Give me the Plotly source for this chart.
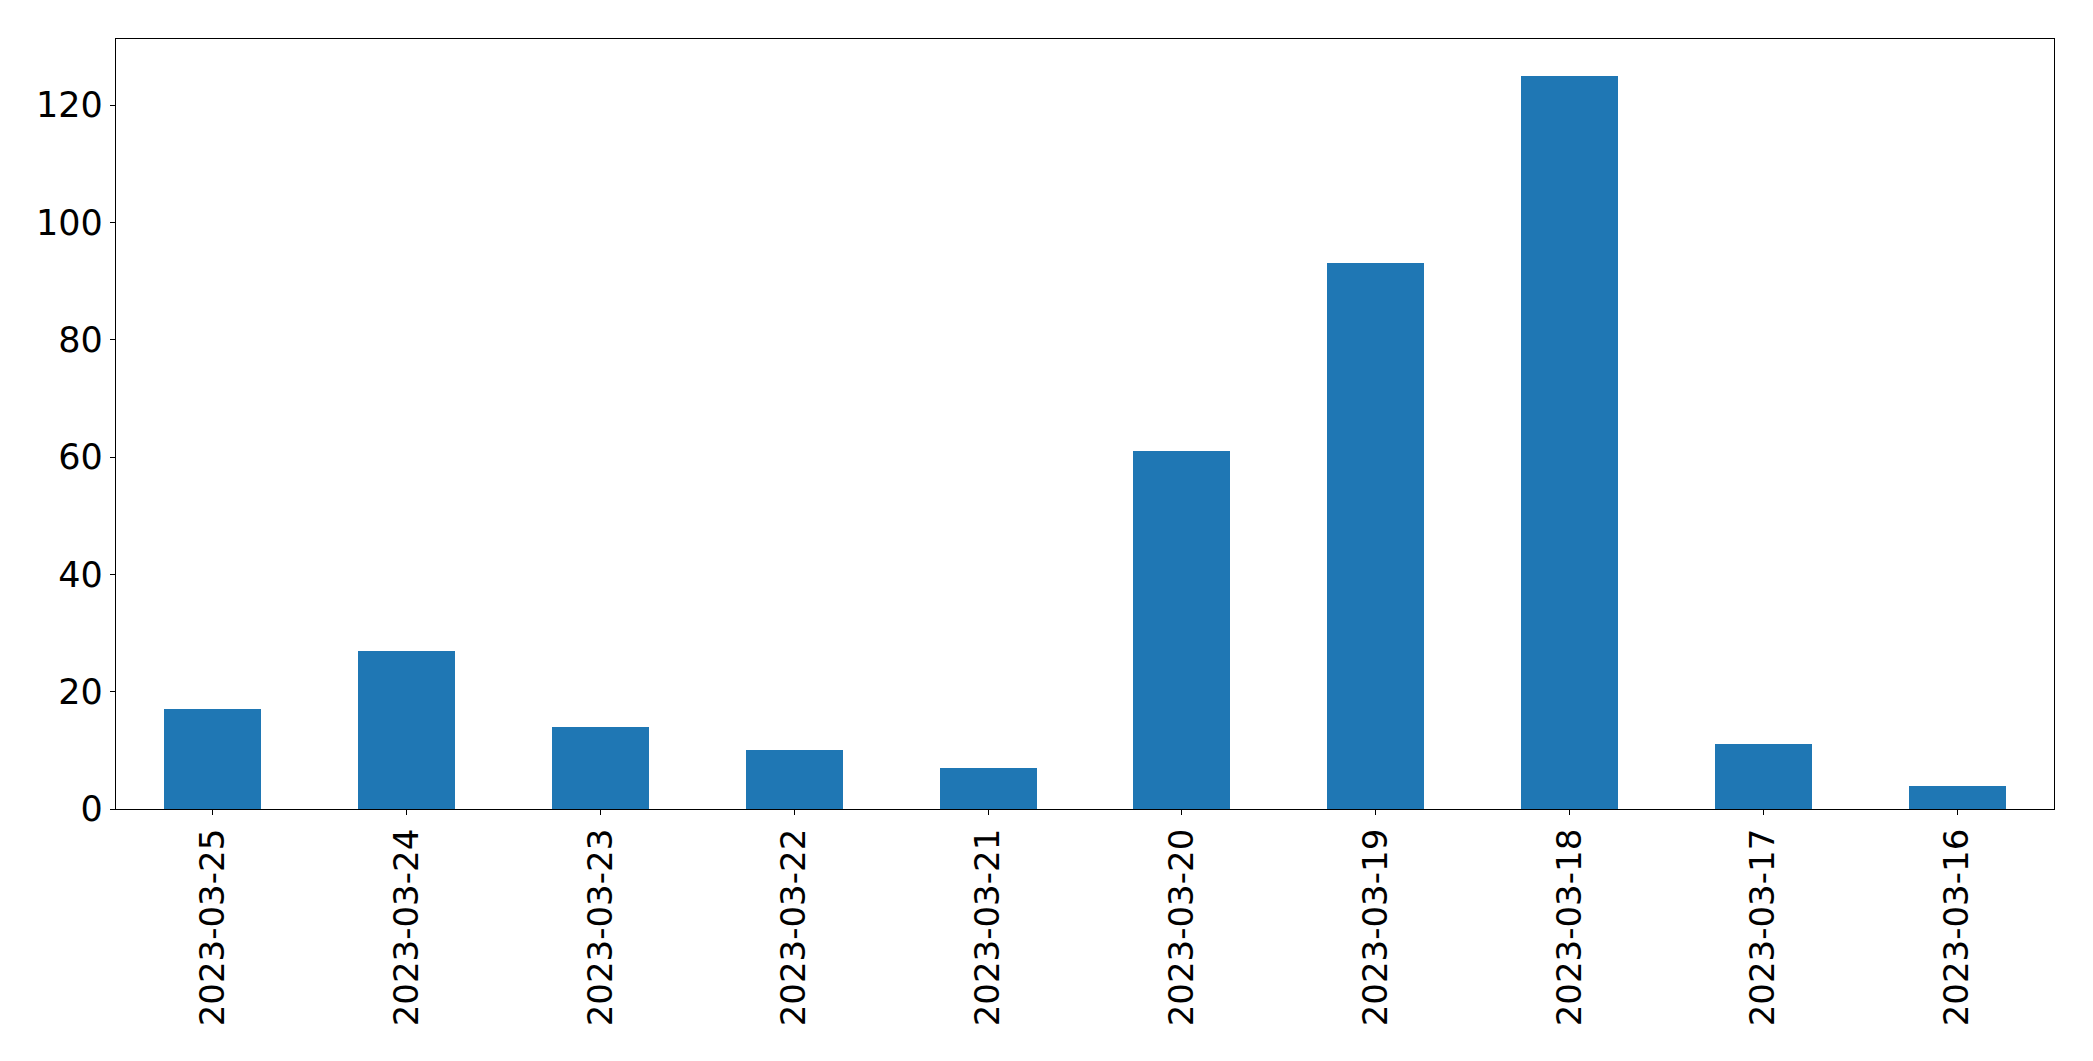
import plotly.graph_objects as go

dates = ["2023-03-25", "2023-03-24", "2023-03-23", "2023-03-22", "2023-03-21",
         "2023-03-20", "2023-03-19", "2023-03-18", "2023-03-17", "2023-03-16"]
counts = [17, 27, 14, 10, 7, 61, 93, 125, 11, 4]
y_ticks = [0, 20, 40, 60, 80, 100, 120]

fig = go.Figure()
fig.add_trace(go.Bar(
    x=list(range(len(dates))),
    y=counts,
    width=0.5,
    marker=dict(color="#1f77b4", line=dict(width=0)),
))

fig.update_layout(
    width=2093, height=1061,
    margin=dict(l=108, r=47, t=31, b=260, autoexpand=False),
    paper_bgcolor="white", plot_bgcolor="white",
    font=dict(family="DejaVu Sans", size=35, color="black"),
    showlegend=False,
    bargap=0,
)
fig.update_xaxes(
    range=[-0.5, len(dates) - 0.5],
    tickmode="array", tickvals=list(range(len(dates))), ticktext=dates,
    tickangle=-90, tickfont=dict(size=34),
    showline=True, linecolor="black", linewidth=1.3, mirror=True,
    ticks="outside", ticklen=5, tickwidth=1.3, tickcolor="black",
    showgrid=False, zeroline=False, automargin=False,
)
fig.update_yaxes(
    range=[0, max(counts) * 1.05],
    tickmode="array", tickvals=y_ticks, tickfont=dict(size=35),
    showline=True, linecolor="black", linewidth=1.3, mirror=True,
    ticks="outside", ticklen=5, tickwidth=1.3, tickcolor="black",
    showgrid=False, zeroline=False, automargin=False,
)

fig.write_html("out.html")
